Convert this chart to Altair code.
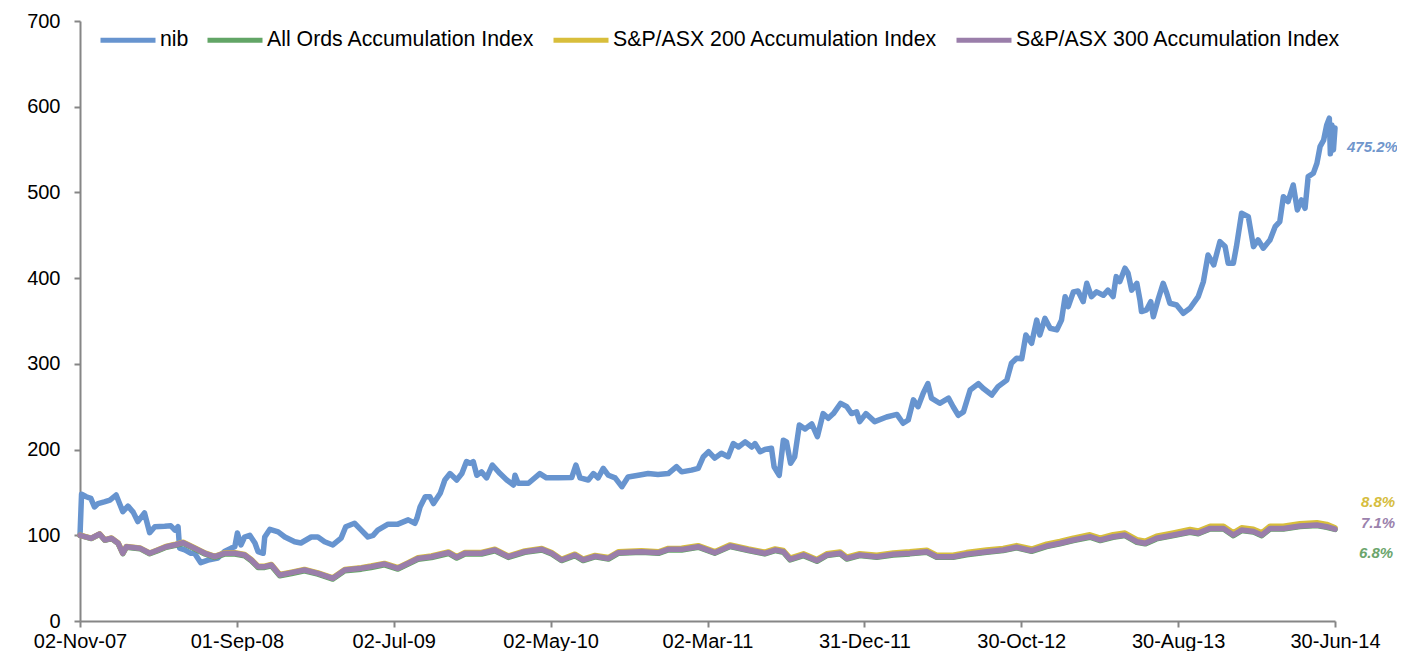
import altair as alt
import pandas as pd

START = pd.Timestamp("2007-11-02")

series_names = ["nib", "All Ords Accumulation Index",
                "S&P/ASX 200 Accumulation Index", "S&P/ASX 300 Accumulation Index"]
series_colors = ["#6794CF", "#62A566", "#D8BE3B", "#9A7EAA"]

# days after 02-Nov-07
nib_days = [0,3,12,21,28,35,47,58,70,83,93,103,112,125,135,145,164,176,184,190,193,203,215,222,234,248,267,280,293,300,305,312,319,329,339,345,355,358,368,384,397,416,428,448,461,474,490,506,515,532,545,558,568,577,597,616,636,649,653,659,669,678,685,698,707,717,730,740,749,756,762,769,778,788,799,814,827,840,843,849,869,891,904,927,953,961,969,985,995,1004,1014,1024,1037,1050,1062,1082,1101,1120,1140,1156,1166,1185,1198,1208,1218,1230,1243,1256,1266,1276,1289,1302,1308,1318,1327,1340,1345,1355,1363,1369,1377,1385,1394,1405,1418,1429,1440,1450,1460,1474,1486,1495,1505,1511,1523,1540,1563,1583,1595,1605,1615,1624,1634,1643,1650,1666,1683,1692,1702,1712,1725,1741,1750,1767,1779,1796,1805,1815,1825,1833,1844,1854,1860,1870,1880,1893,1902,1909,1915,1925,1934,1944,1951,1960,1970,1983,1992,2002,2008,2015,2025,2031,2038,2048,2054,2057,2067,2075,2080,2089,2099,2106,2112,2125,2138,2151,2167,2177,2186,2197,2209,2219,2225,2235,2241,2251,2264,2274,2283,2293,2306,2316,2325,2332,2341,2351,2359,2367,2374,2380,2390,2397,2403,2410,2416,2421,2423,2426,2429,2432]
nib_values = [100,148,145,143,133,137,139,141,147,127.5,134,127,116,126,103,110,110.5,111,106,110,85,83,79,79,68,71,73.5,81,85,86.7,102.7,88.7,98,100,91,81,79,98,107,104,98,92.5,91,98,98,92.5,88.7,96.7,110,114,106,98,100,106,113,113,118,114,120,133,145,145,137,149,164.5,172,164.5,172,186,184,186,170,174,167,182,172,164.5,158.7,170,160.7,160.7,172,167,167,167.5,182,167,164.5,172,167,178,170,167,156.7,168,170,172,171,172,180,174,176,178,191.7,197.5,190,195.7,191.7,207,203,209,203,207,197.5,200,201.5,180,170,211,209,184,191.7,228.7,224,230,215,242,236.5,242,254,250,242,244,232.6,242,232.6,238,241,230.7,234.5,258,250,265.7,277,260,254,260,250,240,244,269.5,277,271.5,263.7,273.4,281,300.7,306.5,306,333.7,324,351,333.7,353,341.5,339.6,351,378.4,366.7,384,385,372.6,394,378.4,384,380,386,378.4,401.8,396,411.6,405.7,386,394,374.6,361,363,372.6,355,374.6,394,382.4,370.7,368.7,359,364.9,378.4,396,427,415.4,442.6,436.8,417.4,417.4,436.8,475.7,471.8,436.8,444.6,434.9,444.6,460,466,495,489.3,508.7,479.6,491.2,481.5,518.4,522.3,534,553.4,561,578.8,586.6,545,578.8,549.6,575.2]

index_days = [0,22,38,48,61,74,83,90,116,135,151,167,183,200,222,242,261,280,300,319,332,345,358,371,387,410,435,461,490,513,545,564,590,616,636,655,681,714,730,746,778,804,830,862,895,914,933,959,975,998,1024,1043,1088,1121,1140,1166,1198,1230,1260,1295,1327,1347,1363,1376,1402,1428,1447,1473,1486,1511,1544,1576,1608,1641,1660,1692,1718,1757,1789,1815,1844,1873,1899,1925,1957,1977,2002,2025,2048,2064,2086,2119,2151,2167,2190,2216,2235,2251,2274,2290,2306,2332,2364,2397,2416,2432]
ords_values = [100,96.2,101.2,94.2,96.1,90.3,78.5,86.1,84.4,78.4,82.1,86.0,87.9,90.6,84.2,78.2,74.1,78.1,78.1,76.1,70.3,62.5,62.5,64.3,52.7,55.4,58.5,54.6,48.9,58.5,60.5,62.4,65.5,60.6,66.4,72.1,74.1,78.8,73.4,78.2,78.2,82.0,74.2,80.1,82.8,78.2,70.5,76.3,70.5,74.8,72.3,79.0,80.2,79.0,82.9,82.9,86.0,79.0,86.8,82.1,78.3,82.1,80.2,71.3,76.3,69.7,76.3,78.3,72.3,76.3,74.3,77.1,78.3,80.2,74.3,74.3,77.3,80.2,82.1,85.3,81.3,86.8,90.0,93.8,97.7,93.8,97.7,99.6,91.8,90.0,95.8,99.6,103.5,101.8,107.3,107.3,99.6,105.5,103.8,99.6,107.3,107.3,110.2,111.3,109.3,106.8]
asx200_values = [100,96.6,101.7,94.7,96.8,91.0,79.3,87.0,85.3,79.4,83.2,87.1,89.2,91.9,85.5,79.5,75.5,79.6,79.6,77.6,71.8,64.0,64.0,65.9,54.2,56.9,60.1,56.2,50.4,60.1,62.1,64.1,67.2,62.2,68.0,73.8,75.8,80.5,75.1,79.9,79.9,83.7,75.9,81.8,84.5,79.9,72.1,78.0,72.2,76.5,74.0,80.8,82.0,80.8,84.7,84.8,87.9,80.9,88.8,84.1,80.3,84.1,82.3,73.4,78.4,71.8,78.4,80.5,74.5,78.6,76.6,79.4,80.7,82.6,76.7,76.8,79.8,82.8,84.7,88.0,84.0,89.6,92.8,96.7,100.6,96.7,100.7,102.6,94.8,93.0,98.9,102.7,106.7,105.0,110.5,110.6,102.9,108.8,107.1,102.9,110.6,110.6,113.6,114.7,112.7,108.8]
asx300_values = [100,96.5,101.5,94.5,96.5,90.7,79,86.7,85,79,82.8,86.7,88.7,91.4,85,79,75,79,79,77,71.2,63.4,63.4,65.3,53.7,56.4,59.5,55.6,49.8,59.5,61.5,63.4,66.5,61.5,67.3,73,75,79.7,74.3,79,79,82.8,75,80.9,83.6,79,71.2,77,71.2,75.5,73,79.7,80.9,79.7,83.6,83.6,86.7,79.7,87.5,82.8,79,82.8,80.9,72,77,70.4,77,79,73,77,75,77.8,79,80.9,75,75,78,80.9,82.8,86,82,87.5,90.7,94.5,98.4,94.5,98.4,100.3,92.5,90.7,96.5,100.3,104.2,102.5,108,108,100.3,106.2,104.5,100.3,108,108,110.9,112,110,107.1]

assert len(nib_days) == len(nib_values)
assert len(index_days) == len(ords_values) == len(asx200_values) == len(asx300_values)

tick_dates = ["2007-11-02", "2008-09-01", "2009-07-02", "2010-05-02", "2011-03-02",
              "2011-12-31", "2012-10-30", "2013-08-30", "2014-06-30"]
y_ticks = [0, 100, 200, 300, 400, 500, 600, 700]

end_labels = ["475.2%", "8.8%", "7.1%", "6.8%"]
end_label_y = [553, 139, 114, 79]
end_label_colors = ["#7096CC", "#D6BD3E", "#9B82AD", "#6BA56C"]
end_label_dx = [12, 26, 26, 24]


def to_date(d):
    return (START + pd.Timedelta(days=d)).strftime("%Y-%m-%d")


rows = []
for d, v in zip(nib_days, nib_values):
    rows.append({"date": to_date(d), "value": v, "series": series_names[0]})
for vals, name in zip([ords_values, asx200_values, asx300_values], series_names[1:]):
    for d, v in zip(index_days, vals):
        rows.append({"date": to_date(d), "value": v, "series": name})
df = pd.DataFrame(rows)


def dt(s):
    t = pd.Timestamp(s)
    return alt.DateTime(year=t.year, month=t.month, date=t.day, utc=True)


FONT = "Liberation Sans"
AXIS_COLOR = "#868686"

x_enc = alt.X(
    "date:T",
    scale=alt.Scale(type="utc", domain=[dt(tick_dates[0]), dt(tick_dates[-1])], nice=False),
    axis=alt.Axis(
        values=[dt(s) for s in tick_dates],
        labelExpr="utcFormat(datum.value, '%d-%b-%y')",
        title=None, grid=False, domainColor=AXIS_COLOR, domainWidth=2,
        tickColor=AXIS_COLOR, tickWidth=2, tickSize=6,
        labelFont=FONT, labelFontSize=20, labelColor="#000000", labelPadding=4,
        labelAlign="center", labelOverlap=False, labelFlush=False,
    ),
)
y_enc = alt.Y(
    "value:Q",
    scale=alt.Scale(domain=[0, 700], nice=False),
    axis=alt.Axis(
        values=y_ticks, title=None, grid=False, domainColor=AXIS_COLOR, domainWidth=2,
        tickColor=AXIS_COLOR, tickWidth=2, tickSize=6,
        labelFont=FONT, labelFontSize=20, labelColor="#000000", labelPadding=14,
    ),
)
color_enc = alt.Color(
    "series:N",
    scale=alt.Scale(domain=series_names, range=series_colors),
    legend=alt.Legend(
        title=None, orient="none", legendX=18, legendY=-11, direction="horizontal",
        symbolType="stroke", symbolSize=3025, symbolStrokeWidth=5,
        labelFont=FONT, labelFontSize=21.3, labelColor="#000000", labelLimit=0,
        labelOffset=2, columnPadding=8, padding=0,
    ),
)

layers = []
for name in series_names:
    layers.append(
        alt.Chart(df)
        .transform_filter(alt.datum.series == name)
        .mark_line(strokeWidth=5.5, strokeJoin="round", strokeCap="round")
        .encode(x=x_enc, y=y_enc, color=color_enc)
    )

labels_df = pd.DataFrame({
    "date": [tick_dates[-1]] * len(end_labels),
    "value": end_label_y,
    "text": end_labels,
})
for i in range(len(end_labels)):
    layers.append(
        alt.Chart(labels_df.iloc[[i]])
        .mark_text(align="left", baseline="middle", dx=end_label_dx[i], font=FONT,
                   fontSize=15, fontStyle="italic", fontWeight="bold",
                   color=end_label_colors[i])
        .encode(x=alt.X("date:T"), y=alt.Y("value:Q"), text="text:N")
    )

chart = (
    alt.layer(*layers)
    .properties(
        width=1255, height=600,
        padding={"left": 72, "top": 13, "right": 62, "bottom": 30},
        autosize=alt.AutoSizeParams(type="none"),
        background="#ffffff",
    )
    .configure_view(stroke=None)
)

chart.save("out.html", embed_options={"renderer": "svg", "actions": False})
